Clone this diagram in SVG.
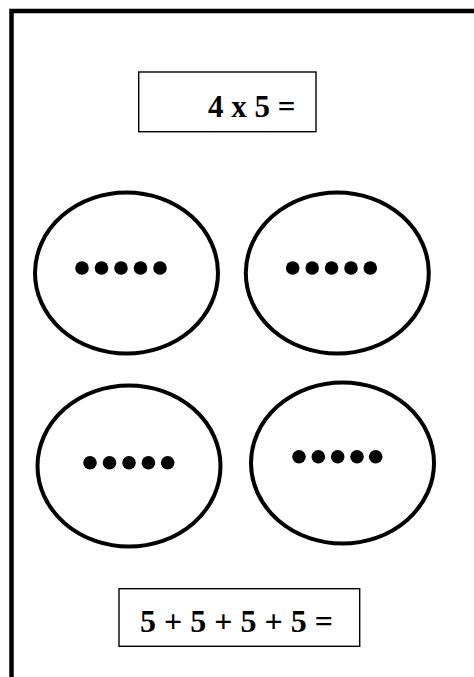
<svg xmlns="http://www.w3.org/2000/svg" width="474" height="677" viewBox="0 0 474 677">
<style>
.frame{fill:none;stroke:#000;stroke-width:4.5}
.box{fill:#fff;stroke:#000;stroke-width:1.4}
.oval{fill:#fff;stroke:#000;stroke-width:4}
.dot{fill:#000}
.t{font-family:"Liberation Serif","Times New Roman",serif;font-weight:bold;fill:#000}
</style>
<rect width="474" height="677" fill="#fff"/>
<g id="frame"><path class="frame" d="M11.5,680 V11 H480"/></g>
<g id="box-top">
<rect class="box" x="138.7" y="72" width="177.3" height="59.7"/>
<text class="t" x="208" y="116.7" font-size="31">4 x 5 =</text>
</g>
<g id="group1">
<ellipse class="oval" cx="126.5" cy="273" rx="91.5" ry="80.5"/>
<g class="dot"><circle cx="82" cy="268" r="6.8"/><circle cx="101.5" cy="268" r="6.8"/><circle cx="121" cy="268" r="6.8"/><circle cx="140.5" cy="268" r="6.8"/><circle cx="160" cy="268" r="6.8"/></g>
</g>
<g id="group2">
<ellipse class="oval" cx="337.3" cy="273" rx="91.5" ry="80.5"/>
<g class="dot"><circle cx="292.7" cy="268" r="6.8"/><circle cx="312.2" cy="268" r="6.8"/><circle cx="331.6" cy="268" r="6.8"/><circle cx="351" cy="268" r="6.8"/><circle cx="370.3" cy="268" r="6.8"/></g>
</g>
<g id="group3">
<ellipse class="oval" cx="129" cy="466" rx="91.5" ry="80.5"/>
<g class="dot"><circle cx="90" cy="462.7" r="6.8"/><circle cx="109.5" cy="462.7" r="6.8"/><circle cx="129" cy="462.7" r="6.8"/><circle cx="148.4" cy="462.7" r="6.8"/><circle cx="167.7" cy="462.7" r="6.8"/></g>
</g>
<g id="group4">
<ellipse class="oval" cx="342.5" cy="463" rx="91.5" ry="80.5"/>
<g class="dot"><circle cx="299" cy="456.7" r="6.8"/><circle cx="318.3" cy="456.7" r="6.8"/><circle cx="337.7" cy="456.7" r="6.8"/><circle cx="357" cy="456.7" r="6.8"/><circle cx="375.7" cy="456.7" r="6.8"/></g>
</g>
<g id="box-bottom">
<rect class="box" x="119" y="588.7" width="240.7" height="57.6"/>
<text class="t" x="140" y="632.3" font-size="32">5 + 5 + 5 + 5 =</text>
</g>
</svg>
